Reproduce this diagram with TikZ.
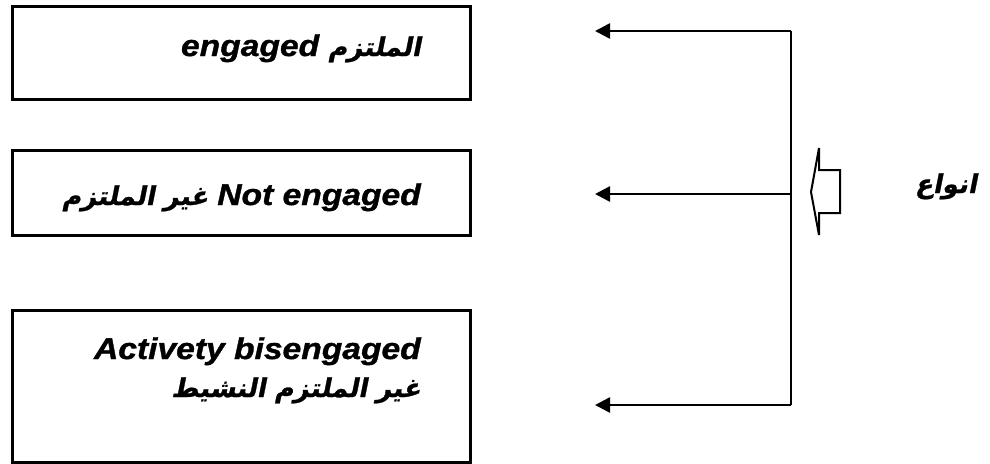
\documentclass[tikz,border=0pt]{standalone}
\usepackage{fontspec}
\usetikzlibrary{arrows.meta}
\TeXXeTstate=1
\setmainfont{Liberation Sans}
\newfontfamily\latinfont[FakeStretch=1.12,FakeBold=1.2]{Liberation Sans}
\newfontfamily\arabicfont[Script=Arabic,FakeSlant=0.2,FakeBold=1]{DejaVu Sans}
\newcommand\engtext[1]{{\latinfont\bfseries\itshape\fontsize{30}{36}\selectfont #1}}
\newcommand\artext{\arabicfont\bfseries\fontsize{26}{32}\selectfont}

\begin{document}
\begin{tikzpicture}[x=1pt,y=-1pt,
  typebox/.style={draw=black,line width=2.8pt,rectangle,minimum width=458pt,anchor=north west,inner sep=0pt},
  label/.style={anchor=base east,inner sep=0pt},
  branch/.style={line width=2.6pt,-{Triangle[length=15pt,width=15pt]}},
  trunk/.style={line width=2.4pt}]
\useasboundingbox (0,0) rectangle (990,463);

% the three boxes
\node[typebox,minimum height=93pt] (b1) at (11,5) {};
\node[typebox,minimum height=85pt] (b2) at (11,149) {};
\node[typebox,minimum height=152pt] (b3) at (11,309) {};

% box labels
\node[label] (l1) at (421,56) {\artext\beginR الملتزم \beginL\engtext{engaged}\endL\endR};
\node[label] (l2) at (421,205) {\artext\beginR\beginL\engtext{Not engaged}\endL{} غير الملتزم\endR};
\node[label] (l3a) at (421,359) {\engtext{Activety bisengaged}};
\node[label] (l3b) at (421,397) {\artext\beginR غير الملتزم النشيط\endR};

% branching connector
\coordinate (top) at (791,31);
\coordinate (mid) at (791,194);
\coordinate (bot) at (791,405);
\coordinate (t1) at (595,31);
\coordinate (t2) at (595,194);
\coordinate (t3) at (595,405);
\draw[trunk] (top) -- (bot);
\draw[branch] (top) -- (t1);
\draw[branch] (mid) -- (t2);
\draw[branch] (bot) -- (t3);

% hollow block arrow
\draw[line width=2pt,line join=miter] (811,192) -- (819,148) -- (819,170) -- (840,170)
  -- (840,213) -- (819,213) -- (819,235) -- cycle;

% heading
\node[anchor=base east,inner sep=0pt] (head) at (977,193) {\artext\beginR انواع\endR};
\end{tikzpicture}
\end{document}
